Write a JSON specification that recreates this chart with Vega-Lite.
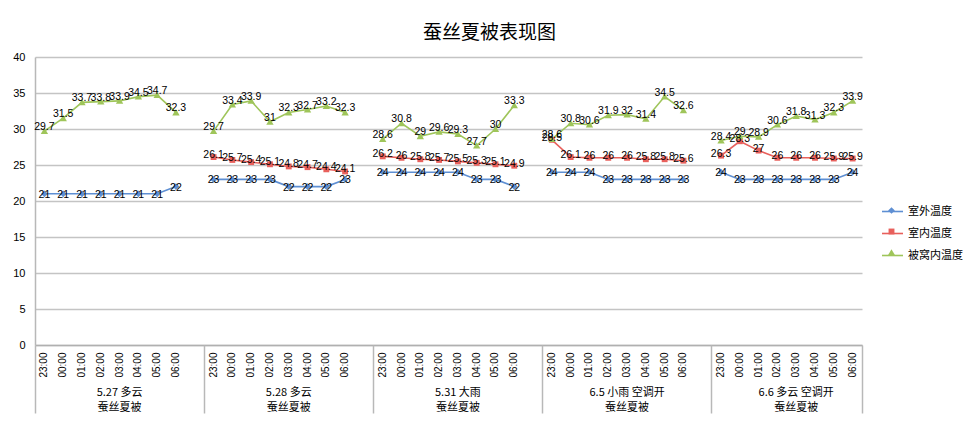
{
  "$schema": "https://vega.github.io/schema/vega-lite/v6.json",
  "width": 827,
  "height": 288,
  "autosize": "none",
  "padding": {"left": 35, "top": 57, "right": 118, "bottom": 81},
  "background": "#ffffff",
  "title": {"text": "蚕丝夏被表现图", "font": "Noto Sans CJK SC", "fontSize": 19, "fontWeight": "normal", "color": "#000000", "anchor": "middle", "frame": "group", "dx": 41, "offset": 8},
  "data": {"values": [
    {"g": "5.27 多云", "t": "23:00", "室外温度": 21, "室内温度": null, "被窝内温度": 29.7},
    {"g": "5.27 多云", "t": "00:00", "室外温度": 21, "室内温度": null, "被窝内温度": 31.5},
    {"g": "5.27 多云", "t": "01:00", "室外温度": 21, "室内温度": null, "被窝内温度": 33.7},
    {"g": "5.27 多云", "t": "02:00", "室外温度": 21, "室内温度": null, "被窝内温度": 33.8},
    {"g": "5.27 多云", "t": "03:00", "室外温度": 21, "室内温度": null, "被窝内温度": 33.9},
    {"g": "5.27 多云", "t": "04:00", "室外温度": 21, "室内温度": null, "被窝内温度": 34.5},
    {"g": "5.27 多云", "t": "05:00", "室外温度": 21, "室内温度": null, "被窝内温度": 34.7},
    {"g": "5.27 多云", "t": "06:00", "室外温度": 22, "室内温度": null, "被窝内温度": 32.3},
    {"g": "5.28 多云", "t": "23:00", "室外温度": 23, "室内温度": 26.1, "被窝内温度": 29.7},
    {"g": "5.28 多云", "t": "00:00", "室外温度": 23, "室内温度": 25.7, "被窝内温度": 33.4},
    {"g": "5.28 多云", "t": "01:00", "室外温度": 23, "室内温度": 25.4, "被窝内温度": 33.9},
    {"g": "5.28 多云", "t": "02:00", "室外温度": 23, "室内温度": 25.1, "被窝内温度": 31},
    {"g": "5.28 多云", "t": "03:00", "室外温度": 22, "室内温度": 24.8, "被窝内温度": 32.3},
    {"g": "5.28 多云", "t": "04:00", "室外温度": 22, "室内温度": 24.7, "被窝内温度": 32.7},
    {"g": "5.28 多云", "t": "05:00", "室外温度": 22, "室内温度": 24.4, "被窝内温度": 33.2},
    {"g": "5.28 多云", "t": "06:00", "室外温度": 23, "室内温度": 24.1, "被窝内温度": 32.3},
    {"g": "5.31 大雨", "t": "23:00", "室外温度": 24, "室内温度": 26.2, "被窝内温度": 28.6},
    {"g": "5.31 大雨", "t": "00:00", "室外温度": 24, "室内温度": 26, "被窝内温度": 30.8},
    {"g": "5.31 大雨", "t": "01:00", "室外温度": 24, "室内温度": 25.8, "被窝内温度": 29},
    {"g": "5.31 大雨", "t": "02:00", "室外温度": 24, "室内温度": 25.7, "被窝内温度": 29.6},
    {"g": "5.31 大雨", "t": "03:00", "室外温度": 24, "室内温度": 25.5, "被窝内温度": 29.3},
    {"g": "5.31 大雨", "t": "04:00", "室外温度": 23, "室内温度": 25.3, "被窝内温度": 27.7},
    {"g": "5.31 大雨", "t": "05:00", "室外温度": 23, "室内温度": 25.1, "被窝内温度": 30},
    {"g": "5.31 大雨", "t": "06:00", "室外温度": 22, "室内温度": 24.9, "被窝内温度": 33.3},
    {"g": "6.5 小雨  空调开", "t": "23:00", "室外温度": 24, "室内温度": 28.5, "被窝内温度": 28.6},
    {"g": "6.5 小雨  空调开", "t": "00:00", "室外温度": 24, "室内温度": 26.1, "被窝内温度": 30.8},
    {"g": "6.5 小雨  空调开", "t": "01:00", "室外温度": 24, "室内温度": 26, "被窝内温度": 30.6},
    {"g": "6.5 小雨  空调开", "t": "02:00", "室外温度": 23, "室内温度": 26, "被窝内温度": 31.9},
    {"g": "6.5 小雨  空调开", "t": "03:00", "室外温度": 23, "室内温度": 26, "被窝内温度": 32},
    {"g": "6.5 小雨  空调开", "t": "04:00", "室外温度": 23, "室内温度": 25.8, "被窝内温度": 31.4},
    {"g": "6.5 小雨  空调开", "t": "05:00", "室外温度": 23, "室内温度": 25.8, "被窝内温度": 34.5},
    {"g": "6.5 小雨  空调开", "t": "06:00", "室外温度": 23, "室内温度": 25.6, "被窝内温度": 32.6},
    {"g": "6.6 多云  空调开", "t": "23:00", "室外温度": 24, "室内温度": 26.3, "被窝内温度": 28.4},
    {"g": "6.6 多云  空调开", "t": "00:00", "室外温度": 23, "室内温度": 28.3, "被窝内温度": 29},
    {"g": "6.6 多云  空调开", "t": "01:00", "室外温度": 23, "室内温度": 27, "被窝内温度": 28.9},
    {"g": "6.6 多云  空调开", "t": "02:00", "室外温度": 23, "室内温度": 26, "被窝内温度": 30.6},
    {"g": "6.6 多云  空调开", "t": "03:00", "室外温度": 23, "室内温度": 26, "被窝内温度": 31.8},
    {"g": "6.6 多云  空调开", "t": "04:00", "室外温度": 23, "室内温度": 26, "被窝内温度": 31.3},
    {"g": "6.6 多云  空调开", "t": "05:00", "室外温度": 23, "室内温度": 25.9, "被窝内温度": 32.3},
    {"g": "6.6 多云  空调开", "t": "06:00", "室外温度": 24, "室内温度": 25.9, "被窝内温度": 33.9}
  ]},
  "transform": [
    {"calculate": "datum.g + '|' + datum.t", "as": "k"},
    {"fold": ["室外温度", "室内温度", "被窝内温度"], "as": ["s", "v"]},
    {"filter": "datum.v != null"}
  ],
  "resolve": {"axis": {"x": "independent"}},
  "layer": [
    {
      "mark": {"type": "line", "strokeWidth": 1.6},
      "encoding": {
        "x": {"field": "k", "type": "nominal", "bandPosition": 0.5,
          "scale": {"type": "band", "paddingInner": 0, "paddingOuter": 0, "domain": [
            "5.27 多云|23:00","5.27 多云|00:00","5.27 多云|01:00","5.27 多云|02:00","5.27 多云|03:00","5.27 多云|04:00","5.27 多云|05:00","5.27 多云|06:00","5.27 多云|",
            "5.28 多云|23:00","5.28 多云|00:00","5.28 多云|01:00","5.28 多云|02:00","5.28 多云|03:00","5.28 多云|04:00","5.28 多云|05:00","5.28 多云|06:00","5.28 多云|",
            "5.31 大雨|23:00","5.31 大雨|00:00","5.31 大雨|01:00","5.31 大雨|02:00","5.31 大雨|03:00","5.31 大雨|04:00","5.31 大雨|05:00","5.31 大雨|06:00","5.31 大雨|",
            "6.5 小雨  空调开|23:00","6.5 小雨  空调开|00:00","6.5 小雨  空调开|01:00","6.5 小雨  空调开|02:00","6.5 小雨  空调开|03:00","6.5 小雨  空调开|04:00","6.5 小雨  空调开|05:00","6.5 小雨  空调开|06:00","6.5 小雨  空调开|",
            "6.6 多云  空调开|23:00","6.6 多云  空调开|00:00","6.6 多云  空调开|01:00","6.6 多云  空调开|02:00","6.6 多云  空调开|03:00","6.6 多云  空调开|04:00","6.6 多云  空调开|05:00","6.6 多云  空调开|06:00"
          ]},
          "axis": {"orient": "bottom", "title": null, "labelAngle": 270, "labelExpr": "split(datum.value, '|')[1]", "ticks": false, "grid": false, "domain": true, "domainColor": "#b0b0b0", "domainWidth": 1.5, "labelPadding": 7, "labelFontSize": 10, "labelOverlap": false, "bandPosition": 0.5}
        },
        "y": {"field": "v", "type": "quantitative", "scale": {"domain": [0, 40]}},
        "color": {"field": "s", "type": "nominal", "sort": ["室外温度", "室内温度", "被窝内温度"], "scale": {"range": ["#5e8fd3", "#e8605c", "#9fc55a"]},
          "legend": {"symbolType": "stroke", "symbolStrokeWidth": 1.6, "symbolSize": 441}},
        "detail": {"field": "g"},
        "order": {"value": null}
      }
    },
    {
      "mark": {"type": "point", "filled": true, "opacity": 1, "size": 441},
      "encoding": {
        "x": {"field": "k", "type": "nominal", "bandPosition": 0.5,
          "axis": {"orient": "bottom", "title": null, "values": ["5.27 多云|23:00", "5.28 多云|23:00", "5.31 大雨|23:00", "6.5 小雨  空调开|23:00", "6.6 多云  空调开|23:00"], "bandPosition": 0, "labels": false, "ticks": true, "tickSize": 68, "tickColor": "#b8b8b8", "tickWidth": 1.5, "domain": false, "grid": false}
        },
        "y": {"field": "v", "type": "quantitative"},
        "fill": {"field": "s", "type": "nominal", "scale": {"domain": ["室外温度", "室内温度", "被窝内温度"], "range": ["#5e8fd3", "#e8605c", "#9fc55a"]}, "legend": {"labelExpr": "''", "symbolSize": 441, "symbolStrokeWidth": 0}},
        "shape": {"field": "s", "type": "nominal", "scale": {"domain": ["室外温度", "室内温度", "被窝内温度"], "range": ["M0,-0.32L0.32,0L0,0.32L-0.32,0Z", "M-0.28,-0.28H0.28V0.28H-0.28Z", "M0,-0.32L0.35,0.28H-0.35Z"]}, "legend": {"labelExpr": "''", "symbolSize": 441, "symbolStrokeWidth": 0}}
      }
    },
    {
      "transform": [{"filter": "datum.s == '被窝内温度'"}],
      "mark": {"type": "text", "dy": -4, "fontSize": 10.5, "color": "#000000"},
      "encoding": {
        "x": {"field": "k", "type": "nominal", "bandPosition": 0.5,
          "axis": {"orient": "bottom", "title": null, "values": ["6.6 多云  空调开|06:00"], "bandPosition": 1, "labels": false, "ticks": true, "tickSize": 68, "tickColor": "#b8b8b8", "tickWidth": 1.5, "domain": false, "grid": false}
        },
        "y": {"field": "v", "type": "quantitative"},
        "text": {"field": "v", "type": "quantitative"}
      }
    },
    {
      "transform": [{"filter": "datum.s == '室内温度'"}],
      "mark": {"type": "text", "dy": -2, "fontSize": 10.5, "color": "#000000"},
      "encoding": {
        "x": {"field": "k", "type": "nominal", "bandPosition": 0.5,
          "axis": {"orient": "bottom", "title": null, "values": ["5.27 多云|03:00", "5.28 多云|03:00", "5.31 大雨|03:00", "6.5 小雨  空调开|03:00"], "bandPosition": 0.5, "labels": true, "ticks": false, "domain": false, "grid": false, "labelExpr": "[split(datum.value, '|')[0], '蚕丝夏被']", "labelFont": "Noto Sans CJK SC", "labelFontSize": 11, "labelLineHeight": 15, "labelPadding": 41, "labelAngle": 0, "labelOverlap": false}
        },
        "y": {"field": "v", "type": "quantitative"},
        "text": {"field": "v", "type": "quantitative"}
      }
    },
    {
      "transform": [{"filter": "datum.s == '室外温度'"}],
      "mark": {"type": "text", "dy": 1, "fontSize": 10.5, "color": "#000000"},
      "encoding": {
        "x": {"field": "k", "type": "nominal", "bandPosition": 0.5,
          "axis": {"orient": "bottom", "title": null, "values": ["6.6 多云  空调开|03:00"], "bandPosition": 0, "labels": true, "ticks": false, "domain": false, "grid": false, "labelExpr": "[split(datum.value, '|')[0], '蚕丝夏被']", "labelFont": "Noto Sans CJK SC", "labelFontSize": 11, "labelLineHeight": 15, "labelPadding": 41, "labelAngle": 0, "labelOverlap": false}
        },
        "y": {"field": "v", "type": "quantitative"},
        "text": {"field": "v", "type": "quantitative"}
      }
    }
  ],
  "config": {
    "font": "Liberation Sans",
    "view": {"stroke": null},
    "axis": {"labelColor": "#000000"},
    "axisY": {"title": null, "values": [0, 5, 10, 15, 20, 25, 30, 35, 40], "grid": true, "gridColor": "#c4c4c4", "gridWidth": 1.5, "ticks": false, "domain": true, "domainColor": "#b8b8b8", "domainWidth": 1.5, "labelPadding": 10, "labelFontSize": 11},
    "legend": {
      "orient": "none", "legendX": 846, "legendY": 143, "title": null,
      "labelFont": "Noto Sans CJK SC", "labelFontSize": 11, "labelColor": "#000000",
      "rowPadding": 5, "labelOffset": 4
    }
  }
}
